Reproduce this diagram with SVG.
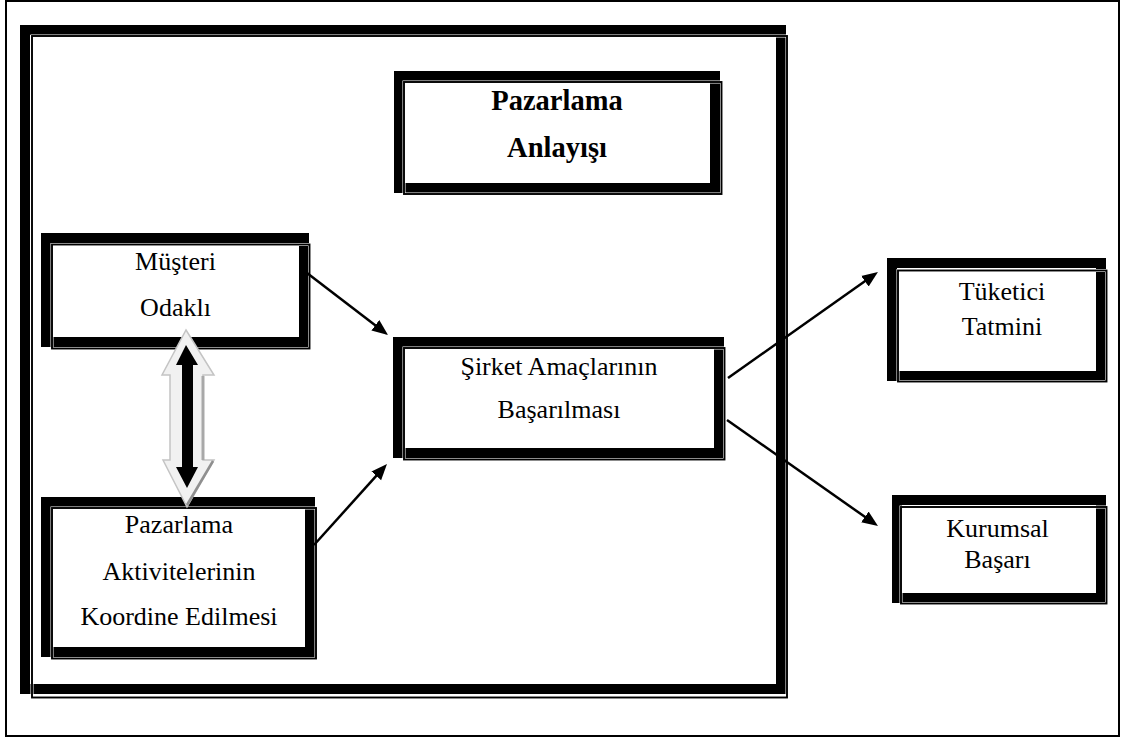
<svg xmlns="http://www.w3.org/2000/svg" width="1121" height="738" viewBox="0 0 1121 738">
  <style>
    .thick { fill: #ffffff; stroke: #000000; stroke-width: 10; }
    .halo { fill: none; stroke: #ffffff; stroke-width: 3; }
    .thin { fill: none; stroke: #000000; stroke-width: 1.9; }
    text { font-family: 'Liberation Serif', 'Times New Roman', serif; font-size: 26px; fill: #000000; text-anchor: middle; }
    .bold { font-weight: bold; font-size: 28.5px; }
    .conn { stroke: #000000; stroke-width: 2.5; fill: none; marker-end: url(#ah); }
  </style>
  <defs>
    <marker id="ah" markerUnits="userSpaceOnUse" markerWidth="18" markerHeight="14" refX="6" refY="7" orient="auto">
      <path d="M0,0.5 L16,7 L0,13.5 z" fill="#000000"/>
    </marker>
  </defs>
  <rect x="0" y="0" width="1121" height="738" fill="#ffffff"/>
  <rect x="6" y="1" width="1113" height="735" fill="none" stroke="#000000" stroke-width="2"/>
  <g id="frame">
    <rect class="thick" x="25" y="30" width="756" height="659"/>
    <rect class="halo" x="32" y="36" width="755" height="661.5"/>
    <rect class="thin" x="32" y="36" width="755" height="661.5"/>
  </g>

  <g id="pazarlama-anlayisi">
    <rect class="thick" x="399" y="76" width="316" height="112"/>
    <rect class="halo" x="404" y="82" width="317.5" height="112"/>
    <rect class="thin" x="404" y="82" width="317.5" height="112"/>
    <text class="bold" x="557" y="110">Pazarlama</text>
    <text class="bold" x="557" y="157">Anlayışı</text>
  </g>

  <g id="musteri-odakli">
    <rect class="thick" x="46" y="238" width="258" height="104"/>
    <rect class="halo" x="52" y="244.5" width="257.5" height="104"/>
    <rect class="thin" x="52" y="244.5" width="257.5" height="104"/>
    <text x="175.5" y="270">Müşteri</text>
    <text x="175.5" y="316">Odaklı</text>
  </g>

  <g id="pazarlama-aktiviteleri">
    <rect class="thick" x="46" y="502" width="264" height="150"/>
    <rect class="halo" x="52" y="508" width="264" height="150.5"/>
    <rect class="thin" x="52" y="508" width="264" height="150.5"/>
    <text x="179" y="533">Pazarlama</text>
    <text x="179" y="580">Aktivitelerinin</text>
    <text x="179" y="625">Koordine Edilmesi</text>
  </g>

  <g id="sirket-amaclari">
    <rect class="thick" x="398" y="342" width="321" height="111"/>
    <rect class="halo" x="404" y="348" width="320.5" height="111.5"/>
    <rect class="thin" x="404" y="348" width="320.5" height="111.5"/>
    <text x="559" y="375">Şirket Amaçlarının</text>
    <text x="559" y="418">Başarılması</text>
  </g>

  <g id="tuketici-tatmini">
    <rect class="thick" x="892" y="263" width="209" height="113"/>
    <rect class="halo" x="898" y="270.5" width="208.5" height="111"/>
    <rect class="thin" x="898" y="270.5" width="208.5" height="111"/>
    <text x="1002" y="300">Tüketici</text>
    <text x="1002" y="335">Tatmini</text>
  </g>

  <g id="kurumsal-basari">
    <rect class="thick" x="897" y="500" width="204" height="98"/>
    <rect class="halo" x="901" y="507" width="205.5" height="96.5"/>
    <rect class="thin" x="901" y="507" width="205.5" height="96.5"/>
    <text x="997.5" y="537">Kurumsal</text>
    <text x="997.5" y="568">Başarı</text>
  </g>

  <g id="connectors">
    <line class="conn" x1="307" y1="273" x2="380.1" y2="328.9"/>
    <line class="conn" x1="314" y1="545" x2="380.3" y2="471.4"/>
    <line class="conn" x1="728" y1="378" x2="869.8" y2="277.8"/>
    <line class="conn" x1="727" y1="420" x2="869.8" y2="520.3"/>
    <g id="double-arrow">
      <polygon points="186,330 214,375 203,375 203,460 214,460 187,507 163,460 170,460 170,375 162,375" fill="#f1f1f1" stroke="#c4c4c4" stroke-width="1.5"/>
      <line x1="203" y1="376" x2="203" y2="460" stroke="#a8a8a8" stroke-width="3"/>
      <line x1="213" y1="461" x2="187" y2="505" stroke="#8f8f8f" stroke-width="2.5"/>
      <polygon points="186,345 198,365 193,365 193,467 198,467 187,488 176,467 182,467 182,365 176,365" fill="#000000"/>
    </g>
  </g>
</svg>
